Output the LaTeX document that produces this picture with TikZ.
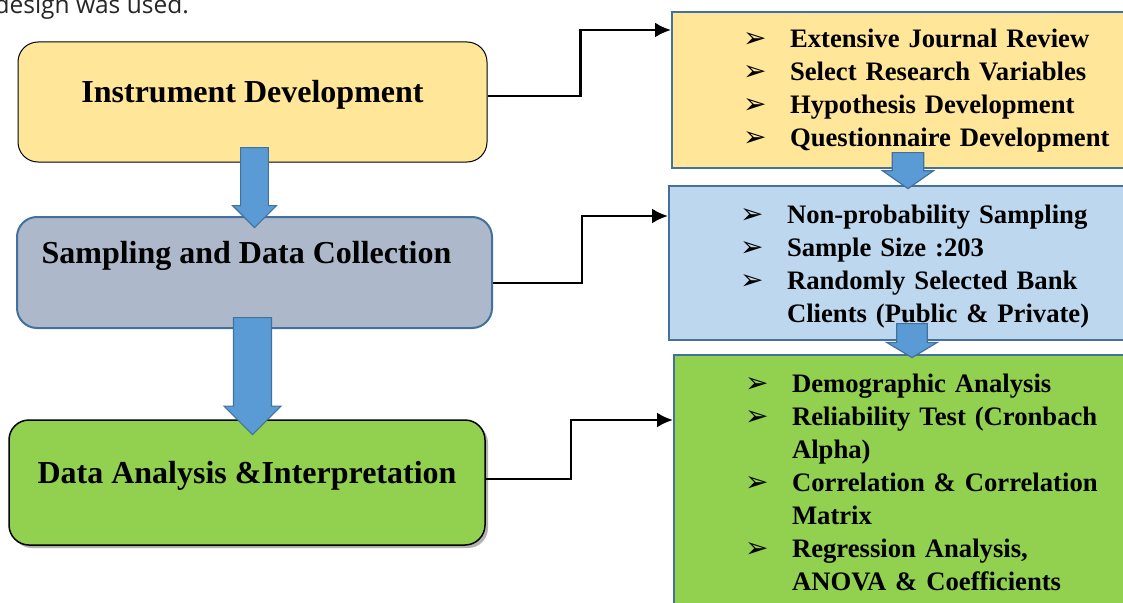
\documentclass[tikz,border=0pt]{standalone}
\usepackage{fontspec}
\setmainfont{Liberation Serif}
\newfontfamily\sansfnt{Open Sans}
\newfontfamily\dingfnt{DejaVu Sans}
\usetikzlibrary{arrows.meta,shapes.arrows,shadows}
\definecolor{paleyellow}{HTML}{FFE699}
\definecolor{slategray}{HTML}{ADB9CA}
\definecolor{paleblue}{HTML}{BDD7EE}
\definecolor{leafgreen}{HTML}{92D050}
\definecolor{arrowblue}{HTML}{5B9BD5}
\definecolor{edgeblue}{HTML}{41719C}
\newcommand{\bul}{\makebox[47pt][l]{\smash{\dingfnt\fontsize{28}{28}\selectfont ➢}}}
\newcommand{\stagefont}{\fontsize{32}{38}\selectfont\bfseries}
\newcommand{\detailfont}{\fontsize{26.67}{33}\selectfont\bfseries}
\tikzstyle{stage}=[rectangle,rounded corners=20pt,font=\stagefont,text height=22pt,inner sep=0pt]
\tikzstyle{detail}=[rectangle,draw=edgeblue,line width=2pt,anchor=north west,
text width=400pt,align=left,inner xsep=71pt,inner ysep=0pt,text height=20pt,font=\detailfont]
\tikzstyle{bigdown}=[single arrow,rotate=-90,anchor=tail,fill=arrowblue,draw=edgeblue,
line width=1.2pt,inner xsep=0pt,single arrow head indent=0pt]
\tikzstyle{link}=[line width=2.5pt,-{Latex[length=16pt,width=15pt]}]

\begin{document}
\begin{tikzpicture}[x=1pt,y=-1pt]
            \useasboundingbox (0,0) rectangle (1123,602);
            \clip (0,0) rectangle (1123,602);

            % CAPTION LINE

            \node[font=\sansfnt\fontsize{24.5}{28}\selectfont,text=black!85,inner sep=0pt,anchor=base east] (cap) at (189,14) {design was used.};

            % DETAIL BOXES

            \node[detail,fill=paleyellow,minimum height=156pt,text depth=104pt] (instlist) at (671,11)
            {\bul Extensive Journal Review\\ \bul Select Research Variables\\
             \bul Hypothesis Development\\ \bul Questionnaire Development};
            \node[detail,fill=paleblue,minimum height=154pt,text depth=100pt] (samplist) at (668,185)
            {\bul Non-probability Sampling\\ \bul Sample Size :203\\
             \bul Randomly Selected Bank\\ \hspace*{47pt}Clients (Public \& Private)};
            \node[detail,fill=leafgreen,minimum height=259pt,text depth=205pt] (anallist) at (673,354)
            {\bul Demographic Analysis\\ \bul Reliability Test (Cronbach\\ \hspace*{47pt}Alpha)\\
             \bul Correlation \& Correlation\\ \hspace*{47pt}Matrix\\
             \bul Regression Analysis,\\ \hspace*{47pt}ANOVA \& Coefficients};

            % STAGES

            \node[stage,fill=paleyellow,draw=black,line width=1pt,minimum width=469pt,minimum height=120pt,
                  text depth=22pt] (inst) at (252.5,102) {Instrument Development};
            \node[stage,fill=slategray,draw=edgeblue,line width=2pt,minimum width=475pt,minimum height=111pt,
                  text depth=41pt] (samp) at (254.5,272.5) {Sampling and Data Collection\hspace*{16pt}};
            \node[stage,fill=leafgreen,draw=black,line width=1.5pt,minimum width=476pt,minimum height=125pt,
                  text depth=21pt,drop shadow={shadow xshift=3pt,shadow yshift=-3pt,fill=black!60}] (anal) at (247,482.5)
                  {Data Analysis \&Interpretation};

            % BLOCK ARROWS

            \node[bigdown,minimum height=80pt,minimum width=44pt,inner ysep=11.5pt] (down1) at (254.5,147) {};
            \node[bigdown,minimum height=117pt,minimum width=57pt,inner ysep=13.5pt] (down2) at (252.5,317) {};
            \node[bigdown,minimum height=36pt,minimum width=51pt,inner ysep=11pt,single arrow tip angle=110] (rdown1) at (908,152) {};
            \node[bigdown,minimum height=34pt,minimum width=50pt,inner ysep=10.5pt,single arrow tip angle=118] (rdown2) at (912,323) {};

            % LINKS

            \draw[link] ([yshift=6pt]inst.east) -- ++(93,0) |- ([yshift=-19pt]instlist.north west);
            \draw[link] ([yshift=-10.5pt]samp.east) -- ++(89,0) |- ([yshift=-31pt]samplist.north west);
            \draw[link] ([yshift=3.5pt]anal.east) -- ++(85,0) |- ([yshift=-66pt]anallist.north west);

\end{tikzpicture}
\end{document}
